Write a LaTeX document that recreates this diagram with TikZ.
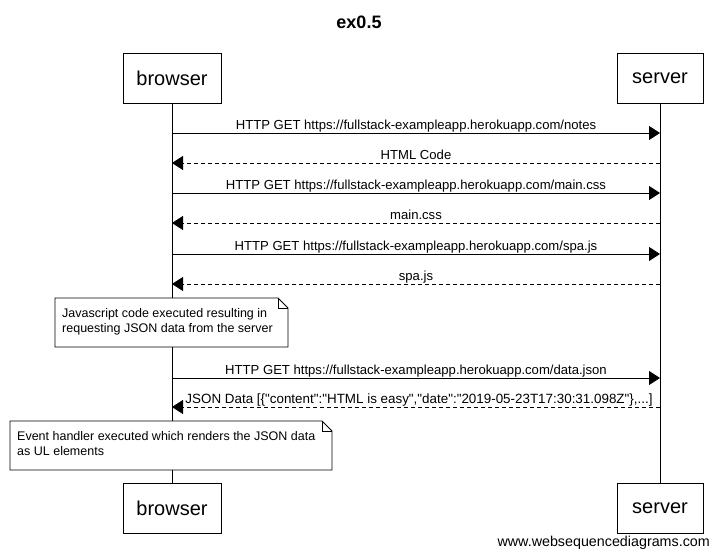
\documentclass[tikz,border=0pt]{standalone}
\usepackage{fontspec}
\setmainfont{Liberation Sans}[Ligatures=TeXOff]
\usetikzlibrary{arrows.meta}
\begin{document}
\begin{tikzpicture}[x=1pt,y=-1pt,
  actor/.style={draw,line width=0.8pt,fill=white,minimum width=98pt,minimum height=50pt,inner sep=0pt,font=\fontsize{20}{24}\selectfont},
  msg/.style={line width=0.8pt,-{Triangle[length=11pt,width=14pt]}},
  ret/.style={msg,dash pattern=on 4pt off 3pt},
  lbl/.style={font=\fontsize{13.1}{15}\selectfont,inner sep=0pt,anchor=base},
  notebox/.style={fill=white,inner sep=0pt,align=left,anchor=north west,font=\fontsize{12.5}{15.5}\selectfont},
  life/.style={line width=0.8pt}]
\useasboundingbox (0,0) rectangle (718,556);
\node[font=\bfseries\fontsize{18}{22}\selectfont] (title) at (359,22) {ex0.5};
\node[actor] (bt) at (172,78) {browser};
\node[actor,minimum width=86pt] (st) at (660,78) {server};
\node[actor] (bb) at (172,508.5) {browser};
\node[actor,minimum width=86pt] (sb) at (660,508.5) {server};
\draw[life] (bt.south) -- (bb.north);
\draw[life] (st.south) -- (sb.north);
% message coordinates
\foreach \n/\y in {1/133,2/163,3/193,4/223,5/254,6/284,7/378,8/407}{
  \coordinate (b\n) at (172,\y);
  \coordinate (s\n) at (660,\y);
}
\draw[msg] (b1) -- (s1);
\draw[ret] (s2) -- (b2);
\draw[msg] (b3) -- (s3);
\draw[ret] (s4) -- (b4);
\draw[msg] (b5) -- (s5);
\draw[ret] (s6) -- (b6);
\draw[msg] (b7) -- (s7);
\draw[ret] (s8) -- (b8);
\node[lbl] (l1) at (416,129.5) {HTTP GET https://fullstack-exampleapp.herokuapp.com/notes};
\node[lbl] (l2) at (416,159.5) {HTML Code};
\node[lbl] (l3) at (416,189.5) {HTTP GET https://fullstack-exampleapp.herokuapp.com/main.css};
\node[lbl] (l4) at (416,219.5) {main.css};
\node[lbl] (l5) at (416,250.5) {HTTP GET https://fullstack-exampleapp.herokuapp.com/spa.js};
\node[lbl] (l6) at (416,280.5) {spa.js};
\node[lbl] (l7) at (416,374.5) {HTTP GET https://fullstack-exampleapp.herokuapp.com/data.json};
\node[lbl,font=\fontsize{13.4}{15}\selectfont] (l8) at (419,403.5) {JSON Data [\{"content":"HTML is easy","date":"2019-05-23T17:30:31.098Z"\},...]};
% note 1
\fill[white] (55,298) rectangle (288,347);
\draw[line width=0.8pt] (55,298) -- (278,298) -- (288,308) -- (288,347) -- (55,347) -- cycle;
\draw[line width=0.6pt] (278,298) -- (278,308) -- (288,308);
\node[notebox] (n1) at (62,308) {Javascript code executed resulting in\\requesting JSON data from the server};
% note 2
\fill[white] (10,421) rectangle (332,470);
\draw[line width=0.8pt] (10,421) -- (322,421) -- (332,431) -- (332,470) -- (10,470) -- cycle;
\draw[line width=0.6pt] (322,421) -- (322,431) -- (332,431);
\node[notebox] (n2) at (17,431) {Event handler executed which renders the JSON data\\as UL elements};
\node[font=\fontsize{14.3}{16}\selectfont,anchor=base east,inner sep=0pt] (wm) at (710,546) {www.websequencediagrams.com};
\end{tikzpicture}
\end{document}
